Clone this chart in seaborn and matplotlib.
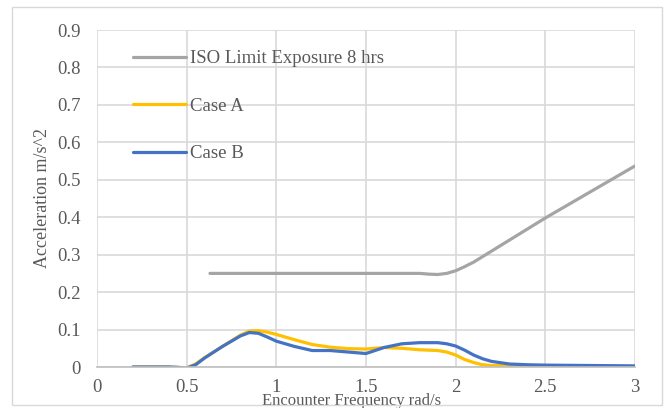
import matplotlib
matplotlib.use("Agg")
import matplotlib.pyplot as plt
import seaborn as sns
import pandas as pd
from matplotlib.patches import Rectangle

# Data
iso_x = [0.63, 0.8, 1.0, 1.2, 1.4, 1.6, 1.8, 1.85, 1.9, 1.95, 2.0, 2.05, 2.1, 2.5, 3.0]
iso_y = [0.25, 0.25, 0.25, 0.25, 0.25, 0.25, 0.25, 0.248, 0.247, 0.25, 0.257, 0.268, 0.28, 0.398, 0.537]

freq = [0.2, 0.3, 0.4, 0.45, 0.5, 0.55, 0.6, 0.7, 0.8, 0.85, 0.9, 0.95, 1.0, 1.1, 1.2, 1.3, 1.4,
        1.5, 1.6, 1.7, 1.8, 1.9, 1.95, 2.0, 2.05, 2.1, 2.15, 2.2, 2.3, 2.4, 2.5, 2.75, 3.0]
case_a = [0.0, 0.0, 0.0, -0.001, -0.002, 0.008, 0.025, 0.055, 0.085, 0.096, 0.097, 0.093, 0.087,
          0.073, 0.06, 0.053, 0.049, 0.048, 0.052, 0.05, 0.046, 0.044, 0.04, 0.032, 0.02, 0.012,
          0.006, 0.004, 0.003, 0.002, 0.002, 0.001, 0.001]
case_b = [0.0, 0.0, 0.0, -0.001, -0.003, 0.006, 0.024, 0.055, 0.083, 0.092, 0.09, 0.08, 0.069,
          0.055, 0.044, 0.044, 0.04, 0.036, 0.052, 0.062, 0.065, 0.065, 0.062, 0.056, 0.045,
          0.032, 0.022, 0.015, 0.008, 0.006, 0.005, 0.004, 0.003]

labels = ["ISO Limit Exposure 8 hrs", "Case A", "Case B"]
colors = ["#A5A5A5", "#FFC000", "#4472C4"]
xtick_labels = ["0", "0.5", "1", "1.5", "2", "2.5", "3"]
ytick_labels = ["0", "0.1", "0.2", "0.3", "0.4", "0.5", "0.6", "0.7", "0.8", "0.9"]

df = pd.concat([
    pd.DataFrame({"x": iso_x, "y": iso_y, "series": labels[0]}),
    pd.DataFrame({"x": freq, "y": case_a, "series": labels[1]}),
    pd.DataFrame({"x": freq, "y": case_b, "series": labels[2]}),
], ignore_index=True)

sns.set_style("white")
plt.rcParams["font.family"] = ["Liberation Serif", "DejaVu Serif"]

fig = plt.figure(figsize=(6.7, 4.08), dpi=100)
ax = fig.add_axes([97/670, 41/408, 538/670, 337/408])

fig.patches.append(Rectangle((12/670, 3/408), 650/670, 398/408, transform=fig.transFigure,
                             fill=False, edgecolor="#d9d9d9", linewidth=1.0, zorder=0))

sns.lineplot(data=df, x="x", y="y", hue="series", palette=dict(zip(labels, colors)),
             hue_order=labels, estimator=None, sort=False, linewidth=2.3, ax=ax)

ax.set_xlim(0, 3)
ax.set_ylim(0, 0.9)
ax.set_xticks([float(t) for t in xtick_labels])
ax.set_xticklabels(xtick_labels)
ax.set_yticks([float(t) for t in ytick_labels])
ax.set_yticklabels(ytick_labels)
ax.grid(True, color="#d9d9d9", linewidth=1.2)
ax.set_axisbelow(True)
for s in ["top", "right", "left"]:
    ax.spines[s].set_visible(False)
ax.spines["bottom"].set_color("#bfbfbf")
ax.spines["bottom"].set_linewidth(1.2)
ax.tick_params(axis="both", length=0, labelsize=13.5, labelcolor="#595959")
ax.tick_params(axis="y", pad=11.5)
ax.tick_params(axis="x", pad=9)

ax.set_xlabel("Encounter Frequency rad/s", fontsize=12, color="#595959", va="center")
ax.xaxis.set_label_coords(0.474, -0.102)
ax.set_ylabel("Acceleration m/s^2", fontsize=13, color="#595959", va="center")
ax.yaxis.set_label_coords(-0.102, 0.5)

leg = ax.legend(loc="upper left", bbox_to_anchor=(133/670, 1 - 50/408), bbox_transform=fig.transFigure,
                frameon=False, fontsize=13.5, handlelength=2.8, handletextpad=0.22,
                labelspacing=1.62, borderpad=0, borderaxespad=0)
for t in leg.get_texts():
    t.set_color("#595959")

fig.savefig("out.png", dpi=100)
